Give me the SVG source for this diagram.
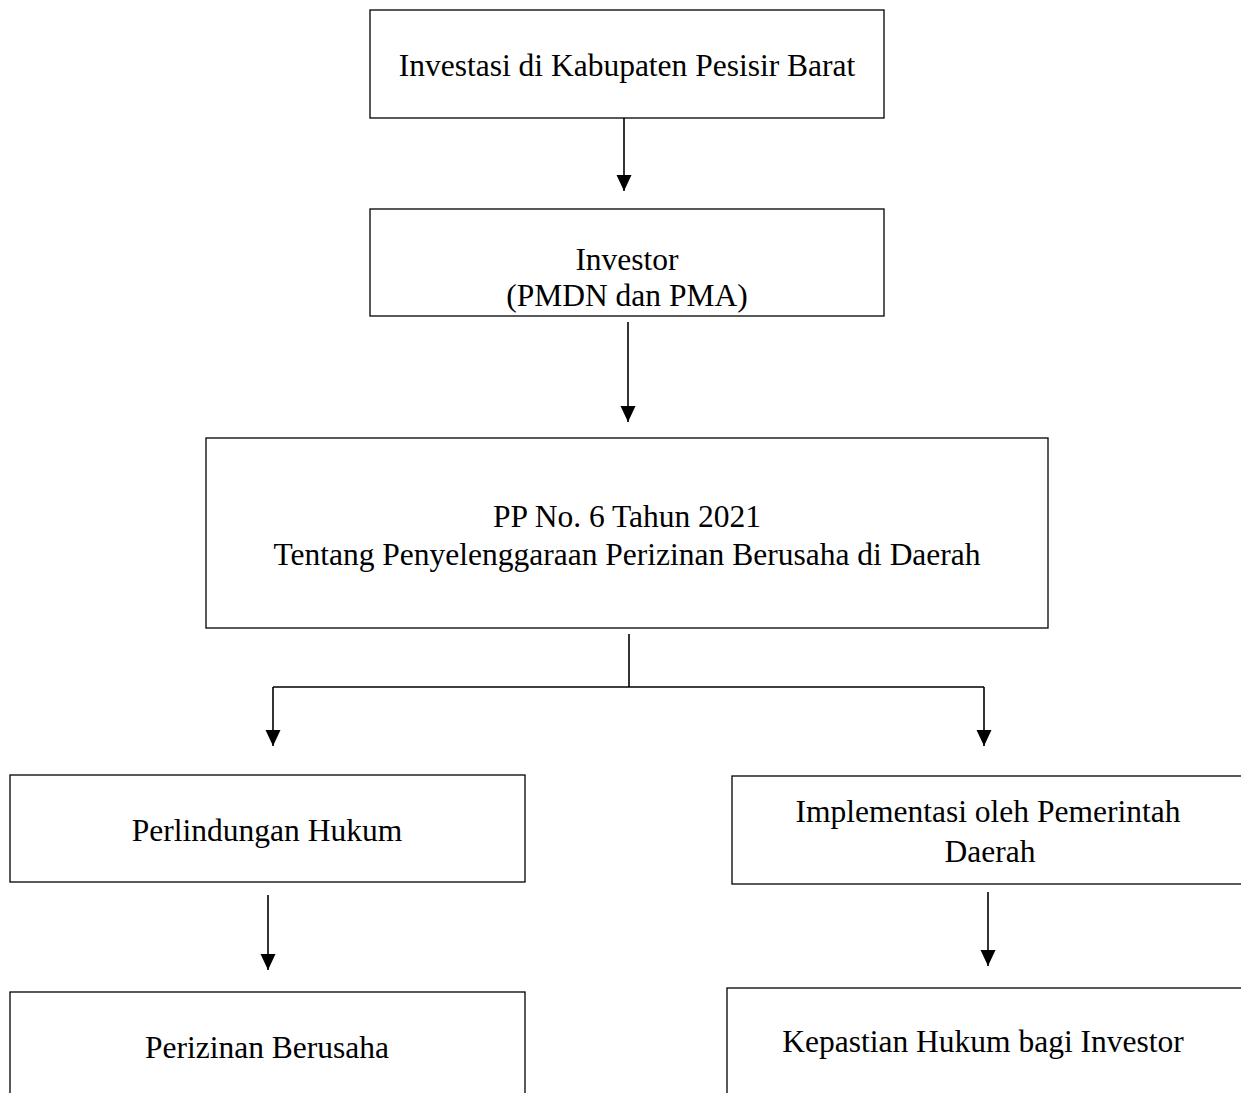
<svg xmlns="http://www.w3.org/2000/svg" width="1241" height="1093" viewBox="0 0 1241 1093">
<style>
.box{fill:#fff;stroke:#000;stroke-width:1.3}
.t{font-family:"Liberation Serif","Times New Roman",serif;font-size:31.5px;fill:#000;text-anchor:middle}
.c{stroke:#000;stroke-width:1.6;fill:none}
</style>
<defs>
<marker id="ah" markerUnits="userSpaceOnUse" markerWidth="16" markerHeight="16" refX="16" refY="8" orient="auto" viewBox="0 0 16 16">
<path d="M0,0.5 L16,8 L0,15.5 Z" fill="#000"/>
</marker>
</defs>
<rect width="1241" height="1093" fill="#fff"/>
<g id="n1"><rect class="box" x="370" y="10" width="514" height="108"/><text class="t" x="627" y="76">Investasi di Kabupaten Pesisir Barat</text></g>
<g id="n2"><rect class="box" x="370" y="209" width="514" height="107"/><text class="t" x="627" y="270">Investor</text><text class="t" x="627" y="306">(PMDN dan PMA)</text></g>
<g id="n3"><rect class="box" x="206" y="438" width="842" height="190"/><text class="t" x="627" y="527">PP No. 6 Tahun 2021</text><text class="t" x="627" y="565">Tentang Penyelenggaraan Perizinan Berusaha di Daerah</text></g>
<g id="n4"><rect class="box" x="10" y="775" width="515" height="107"/><text class="t" x="267" y="841">Perlindungan Hukum</text></g>
<g id="n5"><rect class="box" x="10" y="992" width="515" height="120"/><text class="t" x="267" y="1058">Perizinan Berusaha</text></g>
<g id="n6"><rect class="box" x="732" y="776" width="520" height="108"/><text class="t" x="988" y="822">Implementasi oleh Pemerintah</text><text class="t" x="990" y="862">Daerah</text></g>
<g id="n7"><rect class="box" x="727" y="988" width="525" height="120"/><text class="t" x="983" y="1052">Kepastian Hukum bagi Investor</text></g>
<g id="connectors">
<line class="c" x1="624" y1="118" x2="624" y2="191" marker-end="url(#ah)"/>
<line class="c" x1="628" y1="322" x2="628" y2="422" marker-end="url(#ah)"/>
<line class="c" x1="629" y1="634" x2="629" y2="687"/>
<line class="c" x1="273" y1="687" x2="984" y2="687"/>
<line class="c" x1="273" y1="687" x2="273" y2="746" marker-end="url(#ah)"/>
<line class="c" x1="984" y1="687" x2="984" y2="746" marker-end="url(#ah)"/>
<line class="c" x1="268" y1="895" x2="268" y2="970" marker-end="url(#ah)"/>
<line class="c" x1="988" y1="892" x2="988" y2="966" marker-end="url(#ah)"/>
</g>
</svg>
